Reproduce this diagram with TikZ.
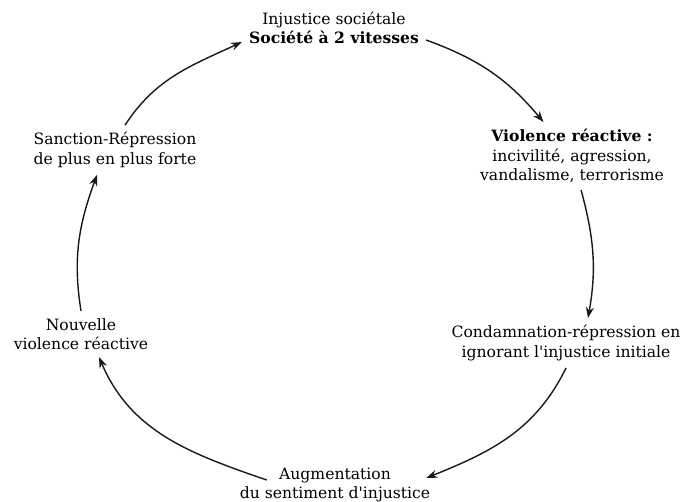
\documentclass[tikz,border=0pt]{standalone}
\usepackage{fontspec}
\setmainfont{DejaVu Serif}
\usepackage{tikz}
\usetikzlibrary{arrows.meta}
\tikzset{
  link/.style={-{Stealth[length=11pt,width=8pt]}, line width=1.4pt, draw=black!90},
  step box/.style={align=center, inner sep=7pt, font=\fontsize{15.6}{19.5}\selectfont}
}

\begin{document}
\begin{tikzpicture}[x=1pt, y=1pt]
  \useasboundingbox (0,0) rectangle (687,501);
  \node[step box] (inj)   at (334,473) {Injustice sociétale\\\textbf{Société à 2 vitesses}};
  \node[step box] (viol)  at (572,345) {\textbf{Violence réactive :}\\incivilité, agression,\\vandalisme, terrorisme};
  \node[step box] (cond)  at (566,158) {Condamnation-répression en\\ignorant l\textquotesingle injustice initiale};
  \node[step box] (aug)   at (335,16)  {Augmentation\\du sentiment d\textquotesingle injustice};
  \node[step box] (nouv)  at (81,167)  {Nouvelle\\violence réactive};
  \node[step box] (sanc)  at (115,351) {Sanction-Répression\\de plus en plus forte};

  \draw[link] ([yshift=-12pt]inj.east) to[out=-20, in=130] (viol);
  \draw[link] (viol) to[out=-75, in=80] ([xshift=22pt]cond.north);
  \draw[link] (cond.south) to[out=-116, in=22] ([xshift=-11pt, yshift=7pt]aug.east);
  \draw[link] ([xshift=34pt, yshift=5pt]aug.west) to[out=161, in=-67] ([xshift=18pt]nouv.south);
  \draw[link] (nouv.north) to[out=99, in=-110] ([xshift=-18pt]sanc.south);
  \draw[link] ([xshift=10pt]sanc.north) to[out=57, in=-155] ([yshift=-14pt]inj.west);
\end{tikzpicture}
\end{document}
